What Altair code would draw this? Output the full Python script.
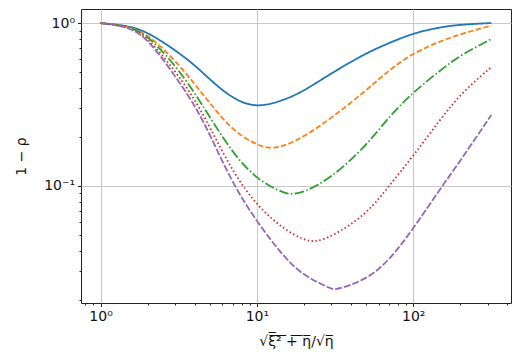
import altair as alt
import pandas as pd

# x positions (sqrt(xi^2+eta)/sqrt(eta)) at which values were read
x_blue = [1, 1.5, 2, 3, 4, 5, 7, 10, 15, 20, 30, 50, 70, 100, 150, 200, 316]
y_blue = [1.0, 0.965, 0.881, 0.683, 0.553, 0.450, 0.342, 0.300, 0.337, 0.383,
          0.493, 0.655, 0.754, 0.868, 0.945, 0.979, 1.0]

x_orange = [1, 1.5, 2, 3, 4, 5, 7, 10, 12.3, 15, 20, 30, 50, 70, 100, 150, 200, 316]
y_orange = [1.0, 0.958, 0.856, 0.593, 0.422, 0.323, 0.2175, 0.178, 0.169, 0.176,
            0.200, 0.261, 0.385, 0.515, 0.655, 0.776, 0.856, 0.965]

x_green = [1, 1.5, 2, 3, 4, 5, 7, 10, 15, 16.7, 20, 30, 50, 70, 100, 150, 200, 316]
y_green = [1.0, 0.958, 0.844, 0.553, 0.372, 0.265, 0.159, 0.109, 0.0899, 0.0888,
           0.0912, 0.1119, 0.176, 0.266, 0.377, 0.515, 0.636, 0.798]

x_red = [1, 1.5, 2, 3, 4, 5, 7, 10, 15, 20, 23.4, 30, 50, 70, 100, 150, 200, 316]
y_red = [1.0, 0.952, 0.821, 0.508, 0.342, 0.230, 0.122, 0.0754, 0.0537, 0.0466,
         0.0451, 0.0486, 0.0664, 0.100, 0.1528, 0.258, 0.367, 0.537]

x_purple = [1, 1.5, 2, 3, 4, 5, 7, 10, 15, 20, 30, 31.9, 50, 70, 100, 150, 200, 316]
y_purple = [1.0, 0.952, 0.809, 0.473, 0.314, 0.208, 0.103, 0.0601, 0.0362, 0.0280,
            0.0233, 0.0229, 0.0265, 0.0347, 0.0545, 0.0972, 0.1423, 0.273]

series_names = ["a", "b", "c", "d", "e"]
series_colors = ["#1f77b4", "#ff7f0e", "#2ca02c", "#d62728", "#9467bd"]
series_dashes = [[1, 0], [5.5, 2.4], [9.6, 2.4, 1.5, 2.4], [1.5, 2.5], [7, 2]]

x_ticks = [0.8, 0.9, 1, 2, 3, 4, 5, 6, 7, 8, 9, 10, 20, 30, 40, 50, 60, 70, 80, 90,
           100, 200, 300, 400]
y_ticks = [0.02, 0.03, 0.04, 0.05, 0.06, 0.07, 0.08, 0.09, 0.1,
           0.2, 0.3, 0.4, 0.5, 0.6, 0.7, 0.8, 0.9, 1]

xs = [x_blue, x_orange, x_green, x_red, x_purple]
ys = [y_blue, y_orange, y_green, y_red, y_purple]
rows = []
for name, xv, yv in zip(series_names, xs, ys):
    for i, (a, b) in enumerate(zip(xv, yv)):
        rows.append({"s": name, "x": a, "y": b, "o": i})
df = pd.DataFrame(rows)

major_test = ("datum.value == 1 || datum.value == 10 || datum.value == 100 || "
              "datum.value == 0.1")
label_expr = ("datum.value == 1 ? '10⁰' : datum.value == 10 ? '10¹' : "
              "datum.value == 100 ? '10²' : datum.value == 0.1 ? '10⁻¹' : ''")

x_axis = alt.Axis(
    values=x_ticks, labelExpr=label_expr, labelOverlap=False, labelFlush=False,
    tickSize={"condition": {"test": major_test, "value": 3.5}, "value": 2},
    gridOpacity={"condition": {"test": major_test, "value": 1}, "value": 0},
    gridColor="#c8c8c8", gridWidth=1, tickColor="#222", domain=False,
    labelFont="DejaVu Sans", labelFontSize=14, labelColor="#111", labelPadding=3,
    title="√ξ̅²̅ ̅+̅ ̅η̅/√η̅", titleFont="DejaVu Sans", titleFontSize=14,
    titleFontWeight="normal", titleColor="#111", titleY=42,
    titleBaseline="alphabetic",
)
y_axis = alt.Axis(
    values=y_ticks, labelExpr=label_expr, labelOverlap=False, labelFlush=False,
    tickSize={"condition": {"test": major_test, "value": 3.5}, "value": 2},
    gridOpacity={"condition": {"test": major_test, "value": 1}, "value": 0},
    gridColor="#c8c8c8", gridWidth=1, tickColor="#222", domain=False,
    labelFont="DejaVu Sans", labelFontSize=14, labelColor="#111", labelPadding=3,
    title="1 − ρ", titleFont="DejaVu Sans", titleFontSize=14,
    titleFontWeight="normal", titleColor="#111", titleX=-53, titleY=147,
    titleAngle=-90, titleAlign="center", titleBaseline="bottom",
)

chart = alt.Chart(df).mark_line(strokeWidth=1.8, clip=True, interpolate="basis").encode(
    x=alt.X("x:Q", scale=alt.Scale(type="log", domain=[0.75, 422], nice=False),
            axis=x_axis),
    y=alt.Y("y:Q", scale=alt.Scale(type="log", domain=[0.0191, 1.22], nice=False),
            axis=y_axis),
    color=alt.Color("s:N", scale=alt.Scale(domain=series_names, range=series_colors),
                    legend=None),
    strokeDash=alt.StrokeDash("s:N", scale=alt.Scale(domain=series_names,
                                                     range=series_dashes),
                              legend=None),
    order="o:Q",
).properties(
    width=430, height=294, autosize="none",
    padding={"left": 73, "top": 1, "right": 8, "bottom": 48},
).configure_view(stroke="#222", strokeWidth=1)

chart.save("out.html", embed_options={"renderer": "svg", "actions": False})
